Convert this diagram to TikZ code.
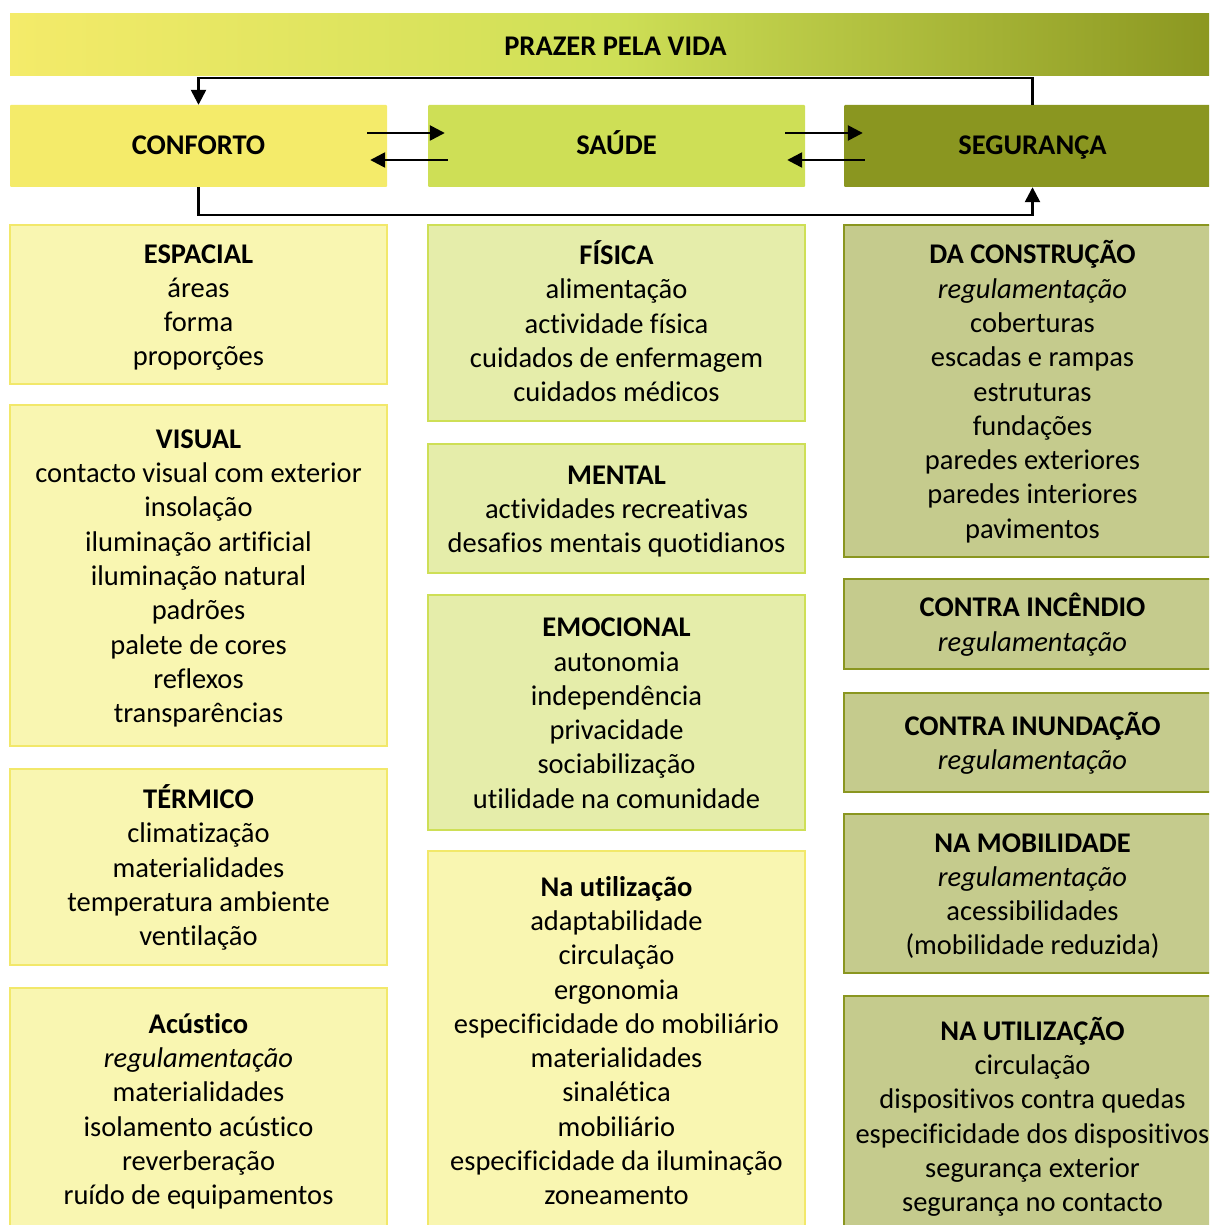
\documentclass[tikz,border=0pt]{standalone}
\usepackage{fontspec}
\setmainfont{Carlito}[Ligatures=NoCommon]
\usetikzlibrary{arrows.meta,calc}
\definecolor{confFill}{HTML}{F4EB6A}
\definecolor{sauFill}{HTML}{CEDF56}
\definecolor{segFill}{HTML}{8A9620}
\definecolor{lyFill}{HTML}{F9F6B1}
\definecolor{lyLine}{HTML}{F2E86A}
\definecolor{lgFill}{HTML}{E5EDAA}
\definecolor{lgLine}{HTML}{CEDF56}
\definecolor{loFill}{HTML}{C5CB8D}
\definecolor{loLine}{HTML}{8A9620}
\newcommand\bx[1]{\rule{0pt}{28pt}#1\rule[-8pt]{0pt}{8pt}}
\tikzset{
  every node/.style={font=\fontsize{28.5}{34.3}\selectfont, align=center, inner sep=0pt},
  colbox/.style={minimum width=377pt, line width=2pt},
  lybox/.style={colbox, fill=lyFill, draw=lyLine},
  lgbox/.style={colbox, fill=lgFill, draw=lgLine},
  lobox/.style={colbox, fill=loFill, draw=loLine},
  headbox/.style={minimum width=377pt, minimum height=82pt, text height=22pt, text depth=4pt, rounded corners=1pt, font=\fontsize{28.5}{34.3}\selectfont\bfseries},
  arr/.style={line width=2.5pt, -{Triangle[length=15pt,width=15pt]}},
}
\begin{document}
\begin{tikzpicture}[x=1pt,y=-1pt]
\useasboundingbox (0,0) rectangle (1209,1225);
\begin{scope}
\clip (0,0) rectangle (1209,1225);
% top bar
\node[minimum width=1211pt, minimum height=62pt, text height=24pt, text depth=2pt, left color=confFill, right color=segFill, middle color=sauFill, font=\fontsize{28.5}{34.3}\selectfont\bfseries] (prazer) at (615.5,45) {PRAZER PELA VIDA};
% header boxes
\node[headbox, fill=confFill] (conf) at (198.5,146) {CONFORTO};
\node[headbox, fill=sauFill] (sau) at (616.5,146) {SAÚDE};
\node[headbox, fill=segFill] (seg) at (1032.5,146) {SEGURANÇA};
% connectors
\draw[arr] (seg.north) -- ++(0,-27) -| (conf.north);
\draw[arr] (conf.south) -- ++(0,28) -| (seg.south);
\draw[arr] ($(conf.east)+(-20,-13)$) -- ($(sau.west)+(17,-13)$);
\draw[arr] ($(sau.west)+(20,14)$) -- ($(conf.east)+(-17,14)$);
\draw[arr] ($(sau.east)+(-20,-13)$) -- ($(seg.west)+(19,-13)$);
\draw[arr] ($(seg.west)+(21,14)$) -- ($(sau.east)+(-18,14)$);
% left column
\node[lybox, minimum height=159pt] (espacial) at (198.5,304.5) {\bx{\textbf{ESPACIAL}\\áreas\\forma\\proporções}};
\node[lybox, minimum height=341pt] (visual) at (198.5,575.5) {\bx{\textbf{VISUAL}\\contacto visual com exterior\\insolação\\iluminação artificial\\iluminação natural\\padrões\\palete de cores\\reflexos\\transparências}};
\node[lybox, minimum height=196pt] (termico) at (198.5,867) {\bx{\textbf{TÉRMICO}\\climatização\\materialidades\\temperatura ambiente\\ventilação}};
\node[lybox, minimum height=242pt] (acustico) at (198.5,1109) {\bx{\textbf{Acústico}\\\textit{regulamentação}\\materialidades\\isolamento acústico\\reverberação\\ruído de equipamentos}};
% middle column
\node[lgbox, minimum height=196pt] (fisica) at (616.5,323) {\bx{\textbf{FÍSICA}\\alimentação\\actividade física\\cuidados de enfermagem\\cuidados médicos}};
\node[lgbox, minimum height=129pt] (mental) at (616.5,508.5) {\bx{\textbf{MENTAL}\\actividades recreativas\\desafios mentais quotidianos}};
\node[lgbox, minimum height=235pt] (emocional) at (616.5,712.5) {\bx{\textbf{EMOCIONAL}\\autonomia\\independência\\privacidade\\sociabilização\\utilidade na comunidade}};
\node[lybox, minimum height=379pt] (nautil) at (616.5,1040.5) {\bx{\textbf{Na utilização}\\adaptabilidade\\circulação\\ergonomia\\especificidade do mobiliário\\materialidades\\sinalética\\mobiliário\\especificidade da iluminação\\zoneamento}};
% right column
\node[lobox, minimum height=332pt] (construcao) at (1032.5,391) {\bx{\textbf{DA CONSTRUÇÃO}\\\textit{regulamentação}\\coberturas\\escadas e rampas\\estruturas\\fundações\\paredes exteriores\\paredes interiores\\pavimentos}};
\node[lobox, minimum height=90pt] (incendio) at (1032.5,624) {\bx{\textbf{CONTRA INCÊNDIO}\\\textit{regulamentação}}};
\node[lobox, minimum height=99pt] (inundacao) at (1032.5,742.5) {\bx{\textbf{CONTRA INUNDAÇÃO}\\\textit{regulamentação}}};
\node[lobox, minimum height=159pt] (mobilidade) at (1032.5,893.5) {\bx{\textbf{NA MOBILIDADE}\\\textit{regulamentação}\\acessibilidades\\(mobilidade reduzida)}};
\node[lobox, minimum height=240pt] (NAutil) at (1032.5,1116) {\bx{\textbf{NA UTILIZAÇÃO}\\circulação\\dispositivos contra quedas\\especificidade dos dispositivos\\segurança exterior\\segurança no contacto}};
\end{scope}
\end{tikzpicture}
\end{document}
